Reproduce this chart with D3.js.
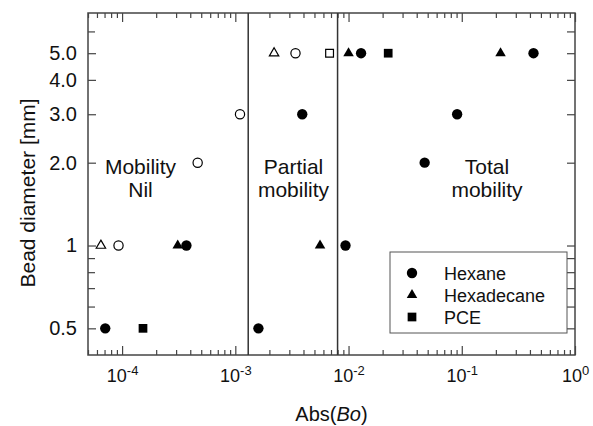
<!DOCTYPE html>
<html lang="en">
<head>
<meta charset="utf-8">
<title>Bead diameter vs Abs(Bo)</title>
<script src="https://cdn.jsdelivr.net/npm/d3@7"></script>
<style>
  body { margin: 0; background: #fff; }
  text { font-family: "Liberation Sans", Arial, sans-serif; fill: #111; }
  .tick line { stroke: #444; stroke-width: 1.2; }
  .domain { display: none; }
</style>
</head>
<body>
<script>
// data
var hexaneX = [7.1e-5, 1.6e-3, 9.3e-5, 3.7e-4, 9.4e-3, 4.65e-4, 0.047, 1.1e-3, 3.9e-3, 0.091, 3.4e-3, 1.29e-2, 0.43];
var hexaneY = [0.5, 0.5, 1, 1, 1, 2, 2, 3, 3, 3, 5, 5, 5];
var hexaneOpen = [0, 0, 1, 0, 0, 1, 0, 1, 0, 0, 1, 0, 0];

var hexadecaneX = [6.5e-5, 3.1e-4, 5.6e-3, 2.2e-3, 1.0e-2, 0.22];
var hexadecaneY = [1, 1, 1, 5, 5, 5];
var hexadecaneOpen = [1, 0, 0, 1, 0, 0];

var pceX = [1.53e-4, 6.8e-3, 2.24e-2];
var pceY = [0.5, 5, 5];
var pceOpen = [0, 1, 0];

var boundaries = [1.3e-3, 8.0e-3];
var xMajor = [1e-4, 1e-3, 1e-2, 1e-1, 1];
var yMajor = [0.5, 1, 2, 3, 4, 5];
var yLabels = ["0.5", "1", "2.0", "3.0", "4.0", "5.0"];
var yMinor = [0.6, 0.7, 0.8, 0.9, 6];

var w = 593, h = 426;
var margin = {top: 13, right: 18, bottom: 71, left: 88};
var pw = w - margin.left - margin.right;
var ph = h - margin.top - margin.bottom;

var svg = d3.select("body").append("svg")
  .attr("width", w).attr("height", h);
var g = svg.append("g")
  .attr("transform", "translate(" + margin.left + "," + margin.top + ")");

var x = d3.scaleLog().domain([5e-5, 1]).range([0, pw]);
var y = d3.scaleLog().domain([0.4, 7]).range([ph, 0]);

// minor x ticks 2..9 of each decade
var xMinor = [];
for (var e = -5; e < 0; e++) {
  for (var k = 2; k <= 9; k++) {
    var v = k * Math.pow(10, e);
    if (v >= 5e-5 && v < 1) xMinor.push(v);
  }
}

// axes with ticks pointing inward
g.append("g").attr("transform", "translate(0," + ph + ")")
  .call(d3.axisBottom(x).tickValues(xMinor).tickSize(-5).tickFormat(""));
var xb = g.append("g").attr("class", "x axis").attr("transform", "translate(0," + ph + ")")
  .call(d3.axisBottom(x).tickValues(xMajor).tickSize(-9).tickPadding(27).tickFormat(""));
g.append("g").call(d3.axisTop(x).tickValues(xMinor).tickSize(-5).tickFormat(""));
g.append("g").call(d3.axisTop(x).tickValues(xMajor).tickSize(-9).tickFormat(""));

g.append("g").call(d3.axisLeft(y).tickValues(yMajor).tickSize(-8).tickPadding(11)
  .tickFormat(function(d, i) { return yLabels[i]; }))
  .selectAll("text").style("font-size", "20px");
g.append("g").call(d3.axisLeft(y).tickValues(yMinor).tickSize(-7).tickFormat(""));
g.append("g").attr("transform", "translate(" + pw + ",0)")
  .call(d3.axisRight(y).tickValues(yMajor.concat(yMinor)).tickSize(-8).tickFormat(""));

// x tick labels as powers of ten
xb.selectAll(".tick").each(function(d) {
  var t = d3.select(this).append("text")
    .attr("y", 27).attr("text-anchor", "middle")
    .style("font-size", "18px");
  t.append("tspan").text("10");
  t.append("tspan").attr("dy", -7).style("font-size", "13px")
    .text(Math.round(Math.log10(d)) == 0 ? "0" : Math.round(Math.log10(d)));
});

// frame
g.append("rect").attr("width", pw).attr("height", ph)
  .attr("fill", "none").attr("stroke", "#444").attr("stroke-width", 1.5);

// regime boundaries
g.selectAll(".boundary").data(boundaries).enter().append("line")
  .attr("class", "boundary")
  .attr("x1", function(d) { return x(d); }).attr("x2", function(d) { return x(d); })
  .attr("y1", 0).attr("y2", ph)
  .attr("stroke", "#333").attr("stroke-width", 1.5);

// region labels
var regions = [
  {lines: ["Mobility", "Nil"], cx: 140.5},
  {lines: ["Partial", "mobility"], cx: 293.5},
  {lines: ["Total", "mobility"], cx: 487}
];
regions.forEach(function(r) {
  r.lines.forEach(function(s, i) {
    svg.append("text").attr("x", r.cx).attr("y", 174 + i * 23)
      .attr("text-anchor", "middle").style("font-size", "21px").text(s);
  });
});

// points
var series = [
  {xs: hexadecaneX, ys: hexadecaneY, open: hexadecaneOpen, type: d3.symbolTriangle, size: 48},
  {xs: pceX, ys: pceY, open: pceOpen, type: d3.symbolSquare, size: 76},
  {xs: hexaneX, ys: hexaneY, open: hexaneOpen, type: d3.symbolCircle, size: 84}
];
series.forEach(function(s) {
  var pts = s.xs.map(function(v, i) { return {x: v, y: s.ys[i], open: s.open[i]}; });
  g.append("g").selectAll("path").data(pts).enter().append("path")
    .attr("d", d3.symbol().type(s.type).size(function(d) { return d.open ? s.size * 0.8 : s.size; }))
    .attr("transform", function(d) { return "translate(" + x(d.x) + "," + y(d.y) + ")"; })
    .attr("fill", function(d) { return d.open ? "#fff" : "#000"; })
    .attr("stroke", "#000")
    .attr("stroke-width", function(d) { return d.open ? 1.2 : 0; });
});

// legend
var legendNames = ["Hexane", "Hexadecane", "PCE"];
var legendTypes = [d3.symbolCircle, d3.symbolTriangle, d3.symbolSquare];
var legendSizes = [84, 48, 76];
svg.append("rect").attr("x", 390).attr("y", 252).attr("width", 177).attr("height", 81)
  .attr("fill", "#fff").attr("stroke", "#555").attr("stroke-width", 1);
legendNames.forEach(function(n, i) {
  var ly = 273 + i * 22;
  svg.append("path").attr("d", d3.symbol().type(legendTypes[i]).size(legendSizes[i])())
    .attr("transform", "translate(412," + ly + ")").attr("fill", "#000");
  svg.append("text").attr("x", 444).attr("y", ly + 6.5).style("font-size", "18px").text(n);
});

// axis titles
var xt = svg.append("text").attr("x", margin.left + pw / 2).attr("y", 421)
  .attr("text-anchor", "middle").style("font-size", "20px");
xt.append("tspan").text("Abs(");
xt.append("tspan").style("font-style", "italic").text("Bo");
xt.append("tspan").text(")");

svg.append("text").attr("transform", "translate(35,193) rotate(-90)")
  .attr("text-anchor", "middle").style("font-size", "21px").text("Bead diameter [mm]");
</script>
</body>
</html>
